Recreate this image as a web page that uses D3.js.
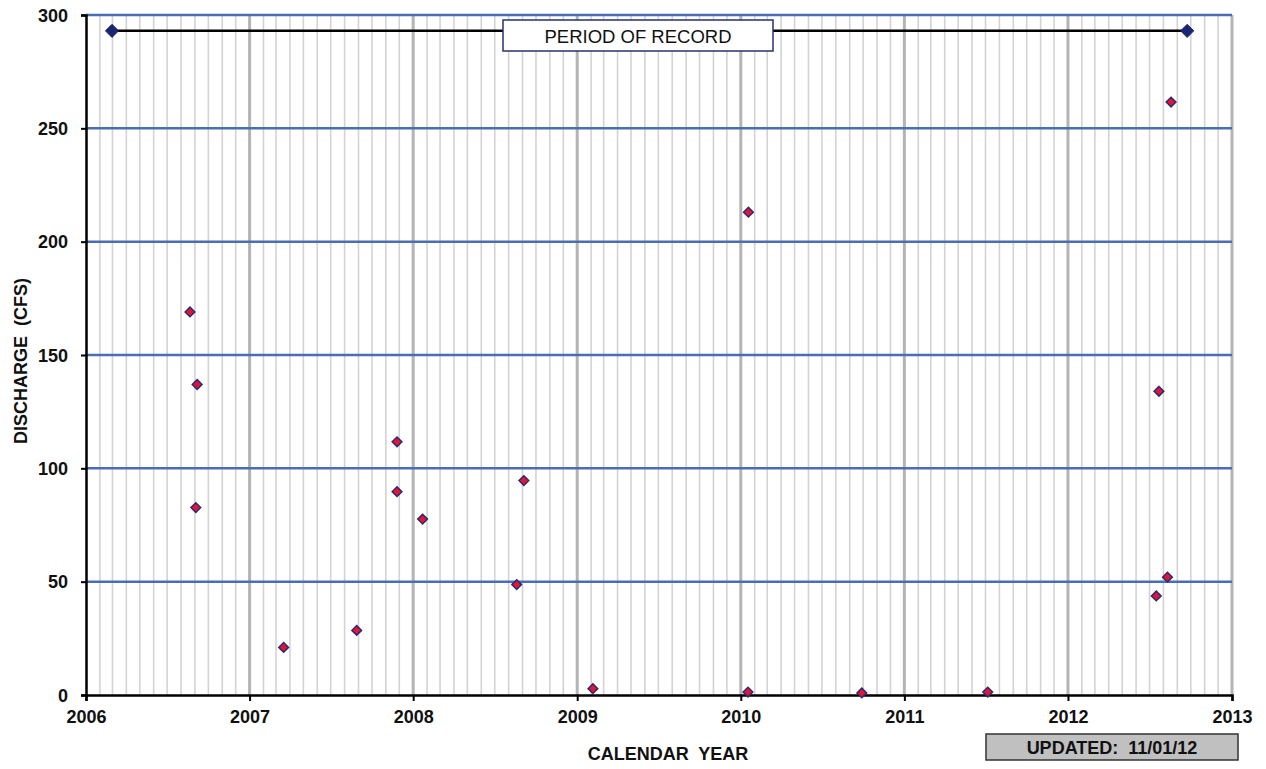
<!DOCTYPE html>
<html>
<head>
<meta charset="utf-8">
<script src="https://cdn.jsdelivr.net/npm/d3@7"></script>
<style>
  body { margin: 0; background: #fff; }
  svg { display: block; font-family: "Liberation Sans", Arial, sans-serif; }
  text { white-space: pre; }
</style>
</head>
<body>
<svg id="chart" width="1266" height="769"></svg>
<script>
// measurement dates and discharge (cfs)
const sampleDates = ["2006-08-21", "2006-09-06", "2006-09-03", "2007-03-18", "2007-08-28",
  "2007-11-26", "2007-11-26", "2008-01-22", "2008-08-19", "2008-09-04", "2009-02-05",
  "2010-01-17", "2010-01-18", "2010-09-28", "2011-07-06", "2012-07-16", "2012-07-22",
  "2012-08-10", "2012-08-18"];
const discharge = [169, 137, 82.7, 21, 28.5, 111.7, 89.7, 77.6, 48.7, 94.6, 2.8,
  1.3, 213, 0.9, 1.3, 43.7, 134, 52, 261.6];

// period of record bar
const recordDates = ["2006-02-28", "2012-09-23"];
const recordLevel = 293;

const yTicks = [0, 50, 100, 150, 200, 250, 300];
const xDomain = ["2006-01-01", "2013-01-01"];

const parse = d3.timeParse("%Y-%m-%d");
const points = sampleDates.map((d, i) => ({date: parse(d), q: discharge[i]}));
const record = recordDates.map(d => ({date: parse(d), q: recordLevel}));

const svg = d3.select("#chart");
const plotLeft = 86, plotRight = 1232, plotTop = 15, plotBottom = 695;

const x = d3.scaleTime().domain(xDomain.map(parse)).range([plotLeft, plotRight]);
const y = d3.scaleLinear().domain([0, 300]).range([plotBottom, plotTop]);

// monthly grid lines
svg.append("g").selectAll("line")
  .data(x.ticks(d3.timeMonth.every(1)).filter(d => d.getMonth() !== 0))
  .join("line")
  .attr("x1", d => x(d)).attr("x2", d => x(d))
  .attr("y1", plotTop).attr("y2", plotBottom)
  .attr("stroke", "#d3d3d3").attr("stroke-width", 1.6);

// yearly grid lines
svg.append("g").selectAll("line")
  .data(x.ticks(d3.timeYear.every(1)).slice(1))
  .join("line")
  .attr("x1", d => x(d)).attr("x2", d => x(d))
  .attr("y1", plotTop).attr("y2", plotBottom)
  .attr("stroke", "#b4b4b4").attr("stroke-width", 3);

// horizontal grid
svg.append("g").selectAll("line")
  .data(yTicks.slice(1))
  .join("line")
  .attr("x1", plotLeft).attr("x2", plotRight)
  .attr("y1", d => y(d)).attr("y2", d => y(d))
  .attr("stroke", "#4a6db5").attr("stroke-width", 2.5);

// axes
const yAxis = svg.append("g")
  .attr("transform", "translate(" + plotLeft + ",0)")
  .call(d3.axisLeft(y).tickValues(yTicks).tickSize(5).tickPadding(13));
const xAxis = svg.append("g")
  .attr("transform", "translate(0," + plotBottom + ")")
  .call(d3.axisBottom(x).ticks(d3.timeYear.every(1)).tickFormat(d3.timeFormat("%Y")).tickSize(6).tickPadding(8));

[yAxis, xAxis].forEach(a => {
  a.select(".domain").attr("stroke", "#000").attr("stroke-width", 2.5);
  a.selectAll(".tick line").attr("stroke", "#000").attr("stroke-width", 2);
  a.selectAll("text").attr("font-size", 18).attr("font-weight", "bold")
    .attr("fill", "#111").attr("font-family", "Liberation Sans, Arial, sans-serif");
});
yAxis.selectAll("text").attr("dy", "0.35em");
xAxis.selectAll("text").attr("dy", "0.75em");

// period of record line
svg.append("path")
  .datum(record)
  .attr("d", d3.line().x(d => x(d.date)).y(d => y(d.q)))
  .attr("stroke", "#000").attr("stroke-width", 2.5).attr("fill", "none");

svg.append("g").selectAll("path")
  .data(record)
  .join("path")
  .attr("transform", d => "translate(" + x(d.date) + "," + y(d.q) + ")")
  .attr("d", d3.symbol(d3.symbolDiamond2, 110))
  .attr("fill", "#1c2570").attr("stroke", "#1c2570").attr("stroke-width", 1);

const recLabel = svg.append("g");
recLabel.append("rect")
  .attr("x", 503).attr("y", 20).attr("width", 270).attr("height", 31)
  .attr("fill", "#fff").attr("stroke", "#2a3070").attr("stroke-width", 1.5);
recLabel.append("text")
  .attr("x", 638).attr("y", 42.5).attr("text-anchor", "middle")
  .attr("font-size", 18.5).attr("fill", "#111")
  .text("PERIOD OF RECORD");

// data points
svg.append("g").selectAll("path")
  .data(points)
  .join("path")
  .attr("transform", d => "translate(" + x(d.date) + "," + y(d.q) + ")")
  .attr("d", d3.symbol(d3.symbolDiamond2, 60))
  .attr("fill", "#e8142c").attr("stroke", "#2a2a7a").attr("stroke-width", 1.5);

// axis titles
svg.append("text")
  .attr("x", 668).attr("y", 760).attr("text-anchor", "middle")
  .attr("font-size", 18).attr("font-weight", "bold").attr("fill", "#111")
  .text("CALENDAR  YEAR");

svg.append("text")
  .attr("transform", "translate(27,361) rotate(-90)")
  .attr("text-anchor", "middle")
  .attr("font-size", 18).attr("font-weight", "bold").attr("fill", "#111")
  .text("DISCHARGE  (CFS)");

// updated box
svg.append("rect")
  .attr("x", 986).attr("y", 734).attr("width", 252).attr("height", 26)
  .attr("fill", "#c0c0c0").attr("stroke", "#333").attr("stroke-width", 1.5);
svg.append("text")
  .attr("x", 1112).attr("y", 753.5).attr("text-anchor", "middle")
  .attr("font-size", 18).attr("font-weight", "bold").attr("fill", "#111")
  .text("UPDATED:  11/01/12");
</script>
</body>
</html>
